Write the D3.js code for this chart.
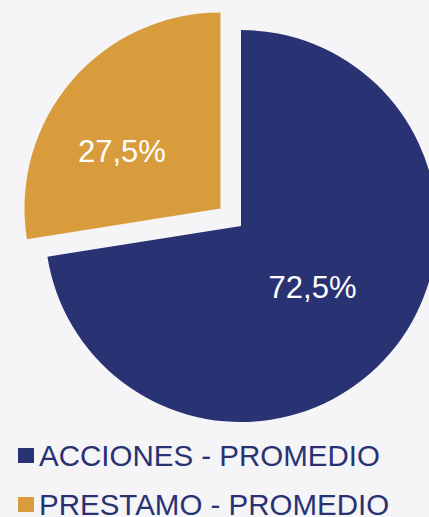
<!DOCTYPE html>
<html>
<head>
<meta charset="utf-8">
<script src="https://cdn.jsdelivr.net/npm/d3@7"></script>
<style>
  html, body { margin: 0; padding: 0; background: #f5f5f8; }
  svg { display: block; font-family: "Liberation Sans", Arial, sans-serif; }
</style>
</head>
<body>
<svg width="429" height="517"></svg>
<script>
var categories = ["ACCIONES - PROMEDIO", "PRESTAMO - PROMEDIO"];
var values = [72.5, 27.5];
var labels = ["72,5%", "27,5%"];
var colors = ["#293272", "#d99c3d"];

var width = 429;
var cx = 241, cy = 226;
var radius = 196;
var explode = [0, 27];

var svg = d3.select("svg");

var data = categories.map(function(c, i) {
    return {name: c, value: values[i], label: labels[i], color: colors[i], explode: explode[i]};
});

var pie = d3.pie().sort(null).value(function(d) { return d.value; });
var arc = d3.arc().innerRadius(0).outerRadius(radius);
var labelArc = d3.arc().innerRadius(radius * 0.48).outerRadius(radius * 0.48);

var arcs = pie(data);

var g = svg.append("g")
    .attr("transform", "translate(" + cx + "," + cy + ")");

var slice = g.selectAll("g.slice")
    .data(arcs)
    .enter().append("g")
    .attr("class", "slice")
    .attr("transform", function(d) {
        var a = (d.startAngle + d.endAngle) / 2;
        var e = d.data.explode;
        return "translate(" + (Math.sin(a) * e) + "," + (-Math.cos(a) * e) + ")";
    });

slice.append("path")
    .attr("d", arc)
    .style("fill", function(d) { return d.data.color; });

// label nudges to match the original placement
var nudge = [[0, 0], [-27, 3]];
slice.append("text")
    .attr("transform", function(d, i) {
        var c = labelArc.centroid(d);
        return "translate(" + (c[0] + nudge[i][0]) + "," + (c[1] + nudge[i][1]) + ")";
    })
    .attr("text-anchor", "middle")
    .attr("dy", "0.36em")
    .style("fill", "#ffffff")
    .style("font-size", "31px")
    .text(function(d) { return d.data.label; });

// Legend
var legend = svg.append("g")
    .attr("transform", "translate(18,448)");

var item = legend.selectAll("g")
    .data(data)
    .enter().append("g")
    .attr("transform", function(d, i) { return "translate(0," + (i * 49) + ")"; });

item.append("rect")
    .attr("width", 16)
    .attr("height", 15)
    .style("fill", function(d) { return d.color; });

item.append("text")
    .attr("x", 21)
    .attr("y", 18)
    .style("fill", "#293272")
    .style("font-size", "29.5px")
    .text(function(d) { return d.name; });
</script>
</body>
</html>
